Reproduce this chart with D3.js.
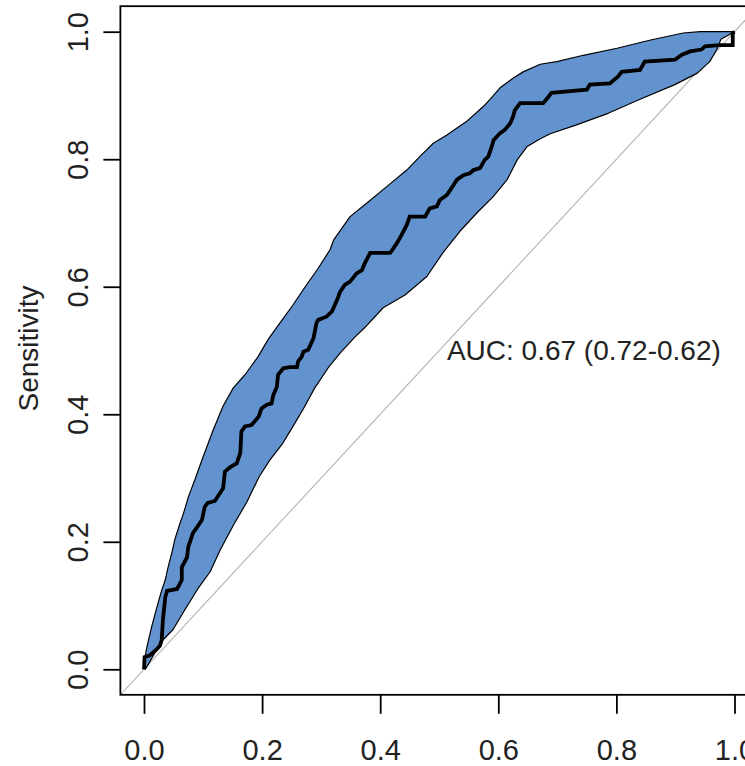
<!DOCTYPE html>
<html>
<head>
<meta charset="utf-8">
<script src="https://cdn.jsdelivr.net/npm/d3@7"></script>
<style>
  html, body { margin: 0; padding: 0; background: #fff; }
  svg { display: block; }
  text { font-family: "Liberation Sans", Arial, Helvetica, sans-serif; fill: #222; }
</style>
</head>
<body>
<svg id="chart" width="745" height="766"></svg>
<script>
// ---------------- data ----------------
const xTicks = [0, 0.2, 0.4, 0.6, 0.8, 1.0];
const yTicks = [0, 0.2, 0.4, 0.6, 0.8, 1.0];
const yLabel = "Sensitivity";
const aucLabel = "AUC: 0.67 (0.72-0.62)";

// ROC curve (1 - specificity, sensitivity)
const rocFpr = [0.000,0.001,0.010,0.020,0.027,0.030,0.032,0.036,0.039,0.056,
  0.064,0.064,0.073,0.075,0.083,0.090,0.098,0.103,0.108,0.120,
  0.129,0.134,0.137,0.146,0.157,0.163,0.165,0.171,0.182,0.194,
  0.199,0.208,0.216,0.219,0.225,0.227,0.236,0.247,0.259,0.261,
  0.267,0.270,0.278,0.287,0.292,0.295,0.309,0.318,0.323,0.329,
  0.332,0.340,0.349,0.360,0.369,0.374,0.383,0.417,0.428,0.436,
  0.445,0.450,0.476,0.484,0.496,0.501,0.513,0.521,0.530,0.541,
  0.552,0.558,0.569,0.577,0.583,0.589,0.592,0.603,0.611,0.620,
  0.625,0.628,0.637,0.676,0.685,0.690,0.750,0.755,0.789,0.803,
  0.809,0.840,0.848,0.899,0.911,0.925,0.944,0.950,0.975,0.997,
  0.997,1.000];
const rocSens = [0.000,0.019,0.022,0.030,0.037,0.046,0.077,0.113,0.123,0.126,
  0.140,0.160,0.176,0.192,0.214,0.223,0.234,0.255,0.261,0.264,
  0.277,0.284,0.310,0.317,0.323,0.339,0.373,0.381,0.383,0.396,
  0.409,0.415,0.417,0.430,0.443,0.462,0.472,0.474,0.474,0.483,
  0.490,0.498,0.501,0.519,0.543,0.548,0.553,0.561,0.571,0.584,
  0.592,0.603,0.608,0.621,0.626,0.637,0.653,0.653,0.668,0.681,
  0.697,0.710,0.710,0.723,0.726,0.736,0.744,0.755,0.768,0.775,
  0.778,0.783,0.786,0.799,0.804,0.820,0.830,0.841,0.846,0.856,
  0.867,0.877,0.888,0.888,0.898,0.904,0.909,0.917,0.919,0.930,
  0.937,0.940,0.953,0.956,0.964,0.969,0.972,0.977,0.979,0.979,
  0.998,1.000];

// Confidence band, upper bound
const upperFpr = [0.000,0.005,0.013,0.022,0.030,0.036,0.041,0.047,0.052,0.061,
  0.067,0.075,0.086,0.100,0.117,0.134,0.151,0.171,0.193,0.210,
  0.230,0.252,0.273,0.295,0.315,0.321,0.349,0.377,0.411,0.445,
  0.467,0.490,0.513,0.546,0.575,0.586,0.603,0.625,0.642,0.671,
  0.699,0.744,0.801,0.858,0.913,0.942,1.000];
const upperSens = [0.011,0.035,0.067,0.098,0.124,0.140,0.161,0.182,0.203,0.229,
  0.245,0.270,0.297,0.333,0.375,0.413,0.441,0.462,0.490,0.517,
  0.543,0.571,0.600,0.629,0.658,0.673,0.710,0.731,0.757,0.783,
  0.804,0.825,0.838,0.859,0.883,0.894,0.912,0.927,0.937,0.949,
  0.953,0.963,0.974,0.987,0.998,1.000,1.000];

// Confidence band, lower bound
const lowerFpr = [0.002,0.005,0.019,0.032,0.049,0.069,0.091,0.112,0.129,0.152,
  0.174,0.195,0.213,0.234,0.251,0.269,0.289,0.312,0.332,0.357,
  0.374,0.405,0.442,0.479,0.506,0.535,0.564,0.591,0.615,0.632,
  0.649,0.671,0.688,0.730,0.786,0.840,0.899,0.937,0.958,0.970,
  0.977,1.000];
const lowerSens = [0.000,0.004,0.027,0.046,0.062,0.093,0.126,0.153,0.187,0.227,
  0.262,0.302,0.328,0.353,0.379,0.407,0.441,0.473,0.496,0.521,
  0.536,0.567,0.587,0.616,0.653,0.687,0.716,0.741,0.768,0.799,
  0.820,0.832,0.840,0.853,0.872,0.894,0.917,0.935,0.953,0.972,
  0.988,1.000];

// ---------------- drawing ----------------
const svg = d3.select("#chart");
const x = d3.scaleLinear().domain([0, 1]).range([144, 734.5]);
const y = d3.scaleLinear().domain([0, 1]).range([669.3, 31.7]);
const pad = 0.04;
const x0 = x(-pad), x1 = x(1 + pad), yTop = y(1 + pad), yBot = y(-pad);

const zip = (a, b) => a.map((v, i) => [v, b[i]]);
const roc = zip(rocFpr, rocSens);
const upper = zip(upperFpr, upperSens);
const lower = zip(lowerFpr, lowerSens);

const line = d3.line().x(d => x(d[0])).y(d => y(d[1]));

svg.append("clipPath").attr("id", "plotclip")
  .append("rect").attr("x", x0).attr("y", yTop).attr("width", x1 - x0).attr("height", yBot - yTop);

const plot = svg.append("g").attr("clip-path", "url(#plotclip)");

// diagonal reference line
plot.append("path")
  .attr("d", line([[-pad, -pad], [1 + pad, 1 + pad]]))
  .attr("stroke", "#b4b4b4").attr("stroke-width", 1.1).attr("fill", "none");

// confidence band
const band = upper.concat(lower.slice().reverse());
plot.append("path")
  .attr("d", line(band) + "Z")
  .attr("fill", "#6393cf")
  .attr("stroke", "#000").attr("stroke-width", 1.2)
  .attr("stroke-linejoin", "round");

// ROC curve
plot.append("path")
  .attr("d", line(roc))
  .attr("fill", "none")
  .attr("stroke", "#000").attr("stroke-width", 3.8)
  .attr("stroke-linejoin", "miter");

// box
svg.append("rect")
  .attr("x", x0).attr("y", yTop).attr("width", x1 - x0).attr("height", yBot - yTop)
  .attr("fill", "none").attr("stroke", "#000").attr("stroke-width", 1.8);

// x axis
const fmt = d3.format(".1f");
const gx = svg.append("g").attr("transform", `translate(0,${yBot})`)
  .call(d3.axisBottom(x).tickValues(xTicks).tickFormat(fmt).tickSize(19));
gx.select(".domain").remove();
gx.selectAll(".tick line").attr("stroke", "#000").attr("stroke-width", 1.8);
gx.selectAll(".tick text")
  .attr("y", 65).attr("dy", 0)
  .style("font-size", "29px").style("fill", "#222")
  .style("font-family", "'Liberation Sans', Arial, sans-serif");

// y axis
const gy = svg.append("g").attr("transform", `translate(${x0},0)`)
  .call(d3.axisLeft(y).tickValues(yTicks).tickFormat(fmt).tickSize(17));
gy.select(".domain").remove();
gy.selectAll(".tick line").attr("stroke", "#000").attr("stroke-width", 1.8);
gy.selectAll(".tick text")
  .attr("x", 0).attr("y", 0).attr("dy", 0)
  .attr("text-anchor", "middle")
  .attr("transform", `translate(${88 - x0},0) rotate(-90)`)
  .style("font-size", "29px").style("fill", "#222")
  .style("font-family", "'Liberation Sans', Arial, sans-serif");

// y label
svg.append("text")
  .attr("transform", `translate(37.5,${(yTop + yBot) / 2 - 2}) rotate(-90)`)
  .attr("text-anchor", "middle")
  .style("font-size", "28px")
  .text(yLabel);

// AUC annotation
svg.append("text")
  .attr("x", x(0.513)).attr("y", y(0.5)).attr("dy", "0.35em")
  .style("font-size", "28px")
  .text(aucLabel);
</script>
</body>
</html>
